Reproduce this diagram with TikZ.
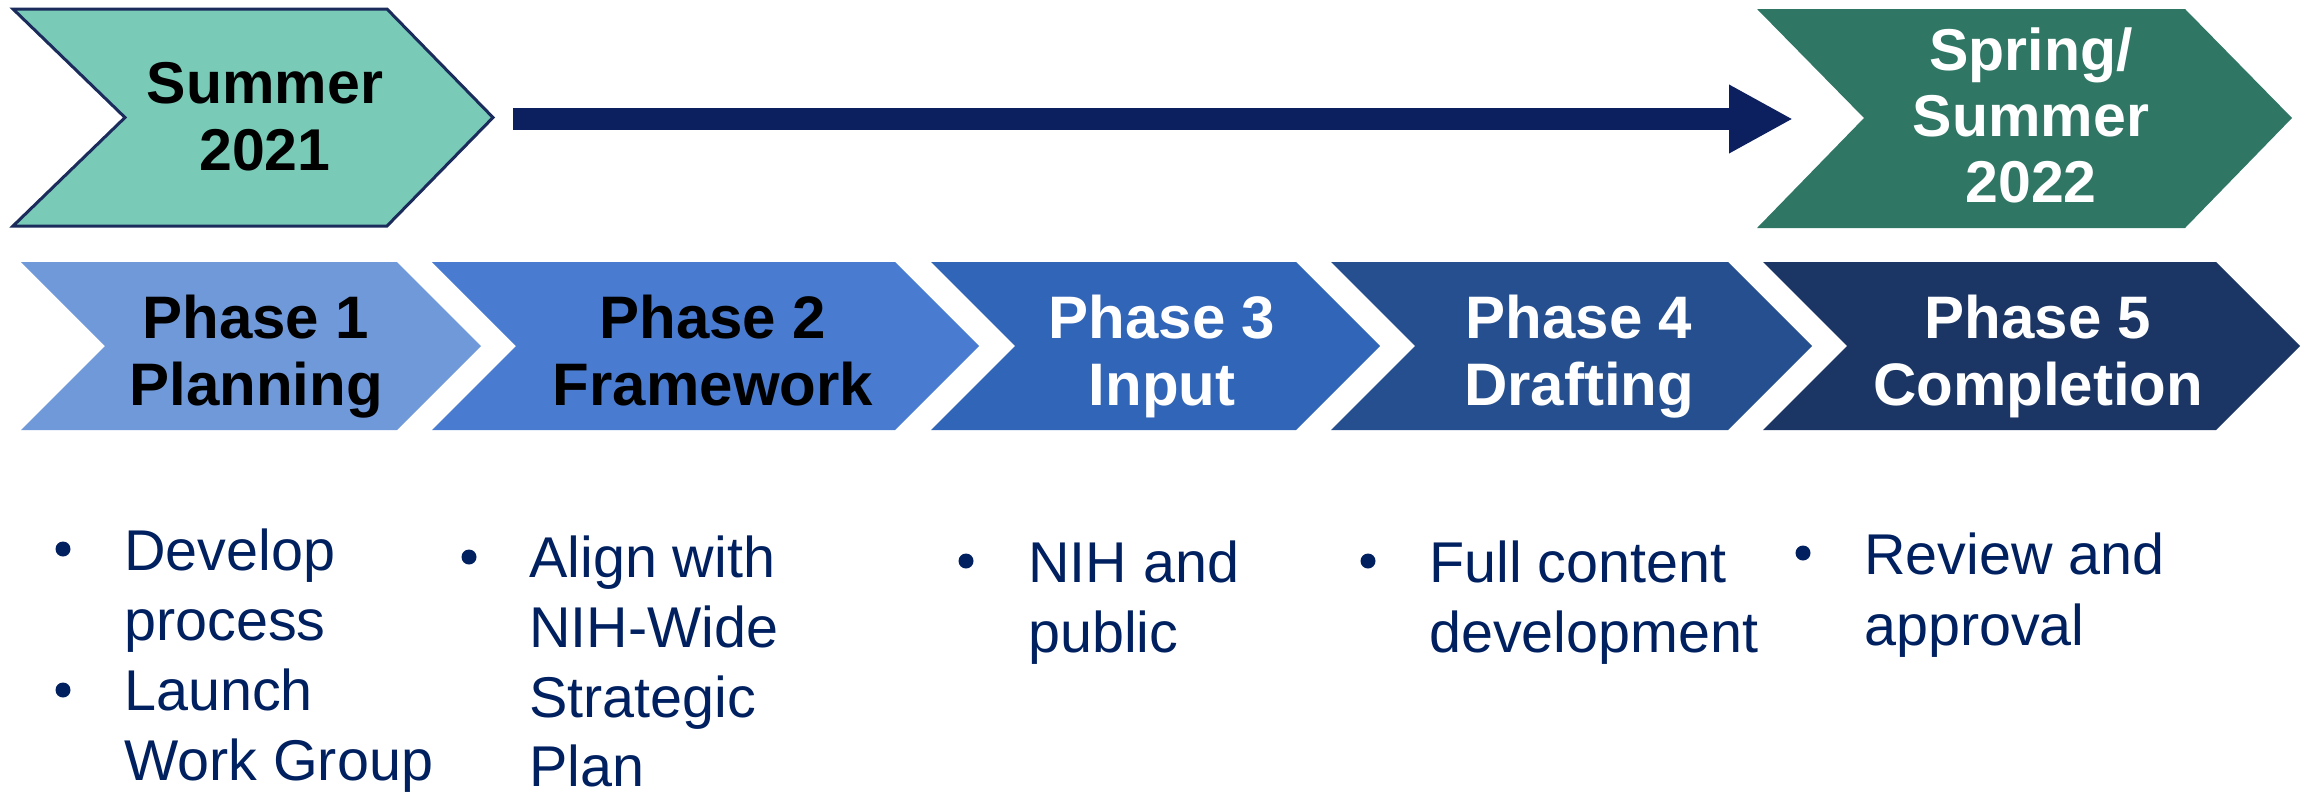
\documentclass[tikz,border=0pt]{standalone}
\usepackage{fontspec}
\setmainfont{Liberation Sans}
\usetikzlibrary{arrows.meta}

\definecolor{summerfill}{HTML}{79CBB7}
\definecolor{summerline}{HTML}{1B2B5C}
\definecolor{springfill}{HTML}{2F7664}
\definecolor{phaseA}{HTML}{7099DA}
\definecolor{phaseB}{HTML}{497CD0}
\definecolor{phaseC}{HTML}{3165B7}
\definecolor{phaseD}{HTML}{254F8F}
\definecolor{phaseE}{HTML}{1B3564}
\definecolor{navy}{HTML}{0C1F5E}
\definecolor{bodyblue}{HTML}{002060}

\begin{document}
\begin{tikzpicture}[x=1pt,y=-1pt,
  headtxt/.style={font=\bfseries\fontsize{60}{67}\selectfont, inner sep=0pt, anchor=base},
  seasontxt/.style={font=\bfseries\fontsize{59}{66}\selectfont, inner sep=0pt, anchor=base},
  bodytxt/.style={font=\fontsize{57.5}{70}\selectfont, text=bodyblue, inner sep=0pt, anchor=base west},
  dot/.style={circle, fill=bodyblue, inner sep=0pt, minimum size=15pt}]
\useasboundingbox (0,0) rectangle (2303,793);

% season markers
\fill[summerfill] (13,9) -- (387,9) -- (493,117.5) -- (387,226) -- (13,226) -- (125,117.5) -- cycle;
\draw[summerline, line width=3pt, line join=miter] (13,9) -- (387,9) -- (493,117.5) -- (387,226) -- (13,226) -- (125,117.5) -- cycle;
\fill[springfill] (1757,9) -- (2185,9) -- (2292,118) -- (2185,228) -- (1757,228) -- (1864,118) -- cycle;

\node[seasontxt] (sum1) at (265,103) {Summer};
\node[seasontxt] (sum2) at (265,170) {2021};
\node[seasontxt, text=white] (spr1) at (2031,70) {Spring/};
\node[seasontxt, text=white] (spr2) at (2031,136) {Summer};
\node[seasontxt, text=white] (spr3) at (2031,202) {2022};

% timeline arrow
\coordinate (tstart) at (513,119);
\coordinate (tend) at (1793,119);
\draw[navy, line width=22pt, -{Triangle[length=64pt, width=64pt]}] (tstart) -- (tend);

% phase chevrons
\fill[phaseA] (21,262) -- (397,262) -- (481,346) -- (397,430) -- (21,430) -- (105,346) -- cycle;
\fill[phaseB] (432,262) -- (895,262) -- (979,346) -- (895,430) -- (432,430) -- (516,346) -- cycle;
\fill[phaseC] (931,262) -- (1296,262) -- (1380,346) -- (1296,430) -- (931,430) -- (1015,346) -- cycle;
\fill[phaseD] (1331,262) -- (1728,262) -- (1812,346) -- (1728,430) -- (1331,430) -- (1415,346) -- cycle;
\fill[phaseE] (1763,262) -- (2216,262) -- (2300,346) -- (2216,430) -- (1763,430) -- (1847,346) -- cycle;

\node[headtxt] (p1a) at (256,338) {Phase 1};
\node[headtxt] (p1b) at (256,405) {Planning};
\node[headtxt] (p2a) at (713,338) {Phase 2};
\node[headtxt] (p2b) at (713,405) {Framework};
\node[headtxt, text=white] (p3a) at (1162,338) {Phase 3};
\node[headtxt, text=white] (p3b) at (1162,405) {Input};
\node[headtxt, text=white] (p4a) at (1579,338) {Phase 4};
\node[headtxt, text=white] (p4b) at (1579,405) {Drafting};
\node[headtxt, text=white] (p5a) at (2038,338) {Phase 5};
\node[headtxt, text=white] (p5b) at (2038,405) {Completion};

% bullet lists
\node[dot] (d1a) at (63,549) {};
\node[bodytxt] (t1a) at (124,570) {Develop};
\node[bodytxt] (t1b) at (124,640) {process};
\node[dot] (d1b) at (63,690) {};
\node[bodytxt] (t1c) at (124,710) {Launch};
\node[bodytxt] (t1d) at (124,780) {Work Group};

\node[dot] (d2a) at (469,557) {};
\node[bodytxt] (t2a) at (529,577) {Align with};
\node[bodytxt] (t2b) at (529,647) {NIH-Wide};
\node[bodytxt] (t2c) at (529,717) {Strategic};
\node[bodytxt] (t2d) at (529,786) {Plan};

\node[dot] (d3a) at (966,561) {};
\node[bodytxt] (t3a) at (1028,582) {NIH and};
\node[bodytxt] (t3b) at (1028,652) {public};

\node[dot] (d4a) at (1368,561) {};
\node[bodytxt] (t4a) at (1429,582) {Full content};
\node[bodytxt] (t4b) at (1429,652) {development};

\node[dot] (d5a) at (1803,553) {};
\node[bodytxt] (t5a) at (1864,574) {Review and};
\node[bodytxt] (t5b) at (1864,645) {approval};
\end{tikzpicture}
\end{document}
